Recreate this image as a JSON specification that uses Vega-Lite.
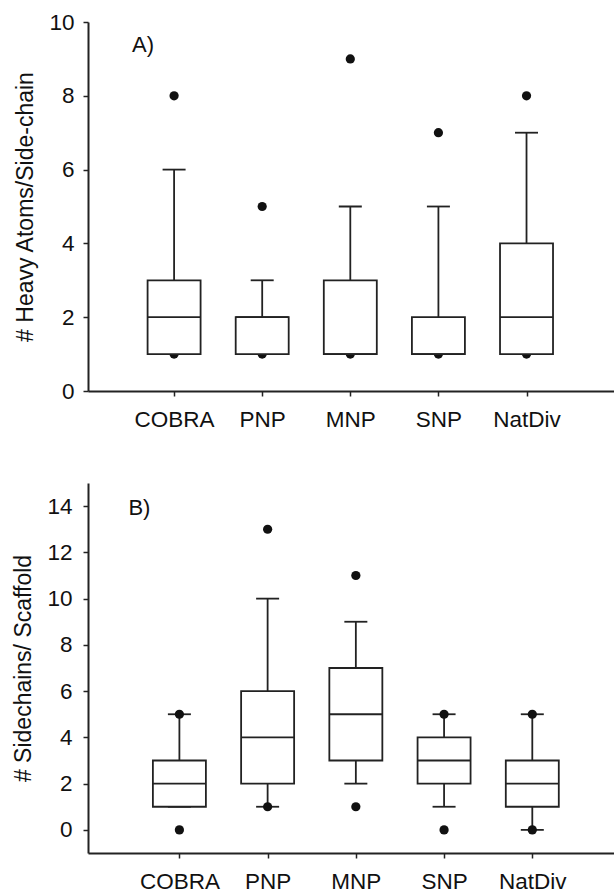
{
  "$schema": "https://vega.github.io/schema/vega-lite/v6.json",
  "padding": {"left": 12, "top": 11, "right": 0, "bottom": 0},
  "background": "white",
  "config": {
    "font": "Liberation Sans",
    "view": {"stroke": null},
    "axis": {
      "grid": false,
      "domainColor": "#222",
      "domainWidth": 2,
      "tickColor": "#222",
      "tickWidth": 1.5,
      "tickSize": 5,
      "labelFontSize": 22.5,
      "labelColor": "#111",
      "titleFontSize": 23,
      "titleFontWeight": "normal",
      "titleColor": "#111"
    }
  },
  "datasets": {
    "a_box": [
      {"cat": "COBRA", "lw": 1, "q1": 1, "med": 2, "q3": 3, "uw": 6},
      {"cat": "PNP", "lw": 1, "q1": 1, "med": 2, "q3": 2, "uw": 3},
      {"cat": "MNP", "lw": 1, "q1": 1, "med": 1, "q3": 3, "uw": 5},
      {"cat": "SNP", "lw": 1, "q1": 1, "med": 1, "q3": 2, "uw": 5},
      {"cat": "NatDiv", "lw": 1, "q1": 1, "med": 2, "q3": 4, "uw": 7}
    ],
    "a_out": [
      {"cat": "COBRA", "value": 8}, {"cat": "COBRA", "value": 1},
      {"cat": "PNP", "value": 5}, {"cat": "PNP", "value": 1},
      {"cat": "MNP", "value": 9}, {"cat": "MNP", "value": 1},
      {"cat": "SNP", "value": 7}, {"cat": "SNP", "value": 1},
      {"cat": "NatDiv", "value": 8}, {"cat": "NatDiv", "value": 1}
    ],
    "b_box": [
      {"cat": "COBRA", "lw": 1, "q1": 1, "med": 2, "q3": 3, "uw": 5},
      {"cat": "PNP", "lw": 1, "q1": 2, "med": 4, "q3": 6, "uw": 10},
      {"cat": "MNP", "lw": 2, "q1": 3, "med": 5, "q3": 7, "uw": 9},
      {"cat": "SNP", "lw": 1, "q1": 2, "med": 3, "q3": 4, "uw": 5},
      {"cat": "NatDiv", "lw": 0, "q1": 1, "med": 2, "q3": 3, "uw": 5}
    ],
    "b_out": [
      {"cat": "COBRA", "value": 5}, {"cat": "COBRA", "value": 0},
      {"cat": "PNP", "value": 13}, {"cat": "PNP", "value": 1},
      {"cat": "MNP", "value": 11}, {"cat": "MNP", "value": 1},
      {"cat": "SNP", "value": 5}, {"cat": "SNP", "value": 0},
      {"cat": "NatDiv", "value": 5}, {"cat": "NatDiv", "value": 0}
    ],
    "a_lab": [{"lab": "A)"}],
    "b_lab": [{"lab": "B)"}]
  },
  "columns": 1,
  "align": "none",
  "spacing": 52,
  "concat": [
    {
      "width": 526,
      "height": 369,
      "encoding": {
        "x": {
          "field": "cat", "type": "nominal",
          "scale": {"type": "point", "padding": 0.985, "align": 0.496, "domain": ["COBRA", "PNP", "MNP", "SNP", "NatDiv"]},
          "axis": {"title": null, "labelAngle": 0, "labelPadding": 12}
        }
      },
      "layer": [
        {
          "data": {"name": "a_box"},
          "mark": {"type": "rule", "color": "#222", "strokeWidth": 1.8},
          "encoding": {
            "y": {"field": "q3", "type": "quantitative",
              "scale": {"domain": [0, 10], "nice": false, "zero": false},
              "axis": {"values": [0, 2, 4, 6, 8, 10], "title": "# Heavy Atoms/Side-chain", "labelPadding": 9, "titlePadding": 11}},
            "y2": {"field": "uw"}
          }
        },
        {
          "data": {"name": "a_box"},
          "mark": {"type": "tick", "color": "#222", "size": 23, "thickness": 1.8, "opacity": 1},
          "encoding": {"y": {"field": "uw", "type": "quantitative"}}
        },
        {
          "data": {"name": "a_out"},
          "mark": {"type": "point", "shape": "circle", "filled": true, "color": "#111", "size": 85, "opacity": 1},
          "encoding": {"y": {"field": "value", "type": "quantitative"}}
        },
        {
          "data": {"name": "a_box"},
          "mark": {"type": "bar", "size": 53, "fill": "white", "stroke": "#222", "strokeWidth": 1.8},
          "encoding": {
            "y": {"field": "q1", "type": "quantitative"},
            "y2": {"field": "q3"}
          }
        },
        {
          "data": {"name": "a_box"},
          "mark": {"type": "tick", "color": "#222", "size": 53, "thickness": 1.8, "opacity": 1},
          "encoding": {"y": {"field": "med", "type": "quantitative"}}
        },
        {
          "data": {"name": "a_lab"},
          "mark": {"type": "text", "fontSize": 22, "color": "#111", "dx": -31},
          "encoding": {
            "x": {"datum": "COBRA"},
            "y": {"datum": 9.37},
            "text": {"field": "lab"}
          }
        }
      ]
    },
    {
      "width": 526,
      "height": 370,
      "encoding": {
        "x": {
          "field": "cat", "type": "nominal",
          "scale": {"type": "point", "padding": 0.981, "align": 0.528, "domain": ["COBRA", "PNP", "MNP", "SNP", "NatDiv"]},
          "axis": {"title": null, "labelAngle": 0, "labelPadding": 12}
        }
      },
      "layer": [
        {
          "data": {"name": "b_box"},
          "mark": {"type": "rule", "color": "#222", "strokeWidth": 1.8},
          "encoding": {
            "y": {"field": "q3", "type": "quantitative",
              "scale": {"domain": [-1, 15], "nice": false, "zero": false},
              "axis": {"values": [0, 2, 4, 6, 8, 10, 12, 14], "title": "# Sidechains/ Scaffold", "labelPadding": 11, "titlePadding": 11}},
            "y2": {"field": "uw"}
          }
        },
        {
          "data": {"name": "b_box"},
          "mark": {"type": "rule", "color": "#222", "strokeWidth": 1.8},
          "encoding": {
            "y": {"field": "lw", "type": "quantitative"},
            "y2": {"field": "q1"}
          }
        },
        {
          "data": {"name": "b_box"},
          "mark": {"type": "tick", "color": "#222", "size": 23, "thickness": 1.8, "opacity": 1},
          "encoding": {"y": {"field": "uw", "type": "quantitative"}}
        },
        {
          "data": {"name": "b_box"},
          "mark": {"type": "tick", "color": "#222", "size": 23, "thickness": 1.8, "opacity": 1},
          "encoding": {"y": {"field": "lw", "type": "quantitative"}}
        },
        {
          "data": {"name": "b_out"},
          "mark": {"type": "point", "shape": "circle", "filled": true, "color": "#111", "size": 85, "opacity": 1},
          "encoding": {"y": {"field": "value", "type": "quantitative"}}
        },
        {
          "data": {"name": "b_box"},
          "mark": {"type": "bar", "size": 53, "fill": "white", "stroke": "#222", "strokeWidth": 1.8},
          "encoding": {
            "y": {"field": "q1", "type": "quantitative"},
            "y2": {"field": "q3"}
          }
        },
        {
          "data": {"name": "b_box"},
          "mark": {"type": "tick", "color": "#222", "size": 53, "thickness": 1.8, "opacity": 1},
          "encoding": {"y": {"field": "med", "type": "quantitative"}}
        },
        {
          "data": {"name": "b_lab"},
          "mark": {"type": "text", "fontSize": 22, "color": "#111", "dx": -40},
          "encoding": {
            "x": {"datum": "COBRA"},
            "y": {"datum": 13.9},
            "text": {"field": "lab"}
          }
        }
      ]
    }
  ]
}
